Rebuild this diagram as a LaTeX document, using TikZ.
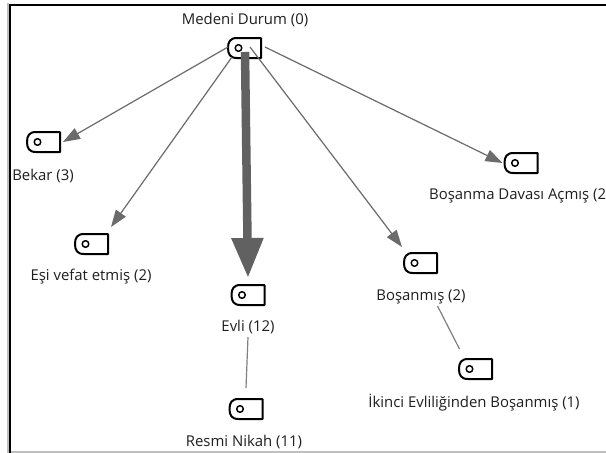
\documentclass[tikz,border=0pt]{standalone}
\usepackage{fontspec}
\setmainfont{Open Sans}
\usetikzlibrary{arrows.meta,calc}
\tikzset{x=1pt,y=-1pt,
  tag/.style={minimum width=33pt,minimum height=20pt,inner sep=0pt,outer sep=0pt},
  lbl/.style={inner sep=0pt,font=\fontsize{14.9}{17}\selectfont,text=black!88},
  conn/.style={draw=black!58,line width=1.2pt,-{Triangle[length=17pt,width=12pt,fill=black!58]}},
  plain/.style={draw=black!50,line width=1.2pt},
  big/.style={draw=black!62,line width=8.5pt,-{Triangle[length=40pt,width=30pt,fill=black!62]}},
  tagline/.style={draw=black,line width=2pt,line join=round}}
\newcommand{\tagshape}[1]{%
  \draw[tagline] ($(#1.north west)+(9,0)$) -- (#1.north east) -- (#1.south east) -- ($(#1.south west)+(9,0)$)
    .. controls ($(#1.south west)+(2,0)$) and ($(#1.west)+(0,6)$) .. (#1.west)
    .. controls ($(#1.west)+(0,-6)$) and ($(#1.north west)+(2,0)$) .. ($(#1.north west)+(9,0)$);
  \draw[tagline,line width=1.5pt] ($(#1.west)+(10.5,0)$) circle (3.3);}
\begin{document}
\begin{tikzpicture}
\useasboundingbox (0,0) rectangle (606,453);
\clip (0,0) rectangle (606,453);
\fill[white] (0,0) rectangle (606,453);
\node[tag] (med) at (244.5,48) {};
\node[tag] (bek) at (43.5,142) {};
\node[tag] (esi) at (91.5,244) {};
\node[tag] (evl) at (248,295) {};
\node[tag] (res) at (246,409) {};
\node[tag] (dav) at (521,163) {};
\node[tag] (bos) at (420.5,263) {};
\node[tag] (ikn) at (475.5,369) {};
\foreach \t in {med,bek,esi,evl,res,dav,bos,ikn} {\tagshape{\t}}
\node[lbl] (lmed) at (245,20) {Medeni Durum (0)};
\node[lbl] (lbek) at (43,176) {Bekar (3)};
\node[lbl] (lesi) at (91,277) {Eşi vefat etmiş (2)};
\node[lbl] (levl) at (248,327) {Evli (12)};
\node[lbl] (lres) at (244,442) {Resmi Nikah (11)};
\node[lbl,anchor=west] (ldav) at (429,196) {Boşanma Davası Açmış (2)};
\node[lbl] (lbos) at (421,297) {Boşanmış (2)};
\node[lbl] (likn) at (474,403) {İkinci Evliliğinden Boşanmış (1)};
\draw[conn] ($(med.west)+(0,-1)$) -- ($(bek.east)+(3,0)$);
\draw[conn] ($(med.south west)+(4,-1)$) -- ($(esi.north east)+(3,-7)$);
\draw[conn] ($(med.north east)+(-11,9)$) -- ($(bos.north west)+(-2,-6)$);
\draw[conn] ($(med.east)+(4,-1)$) -- ($(dav.west)+(-2,0)$);
\draw[big] ($(med.south)+(0.5,-6)$) -- ($(evl.north)+(0,-7)$);
\draw[plain] ($(evl.south)+(0,32)$) -- ($(res.north)+(0,-11)$);
\draw[plain] ($(bos.south)+(17,33)$) -- ($(ikn.north)+(-16,-10)$);
\draw[black!25,line width=2pt] (8,453) -- (8,3);
\draw[black!25,line width=2pt] (9,452) -- (606,452);
\draw[black,line width=2pt] (10,453) -- (10,5) -- (606,5);
\end{tikzpicture}
\end{document}
